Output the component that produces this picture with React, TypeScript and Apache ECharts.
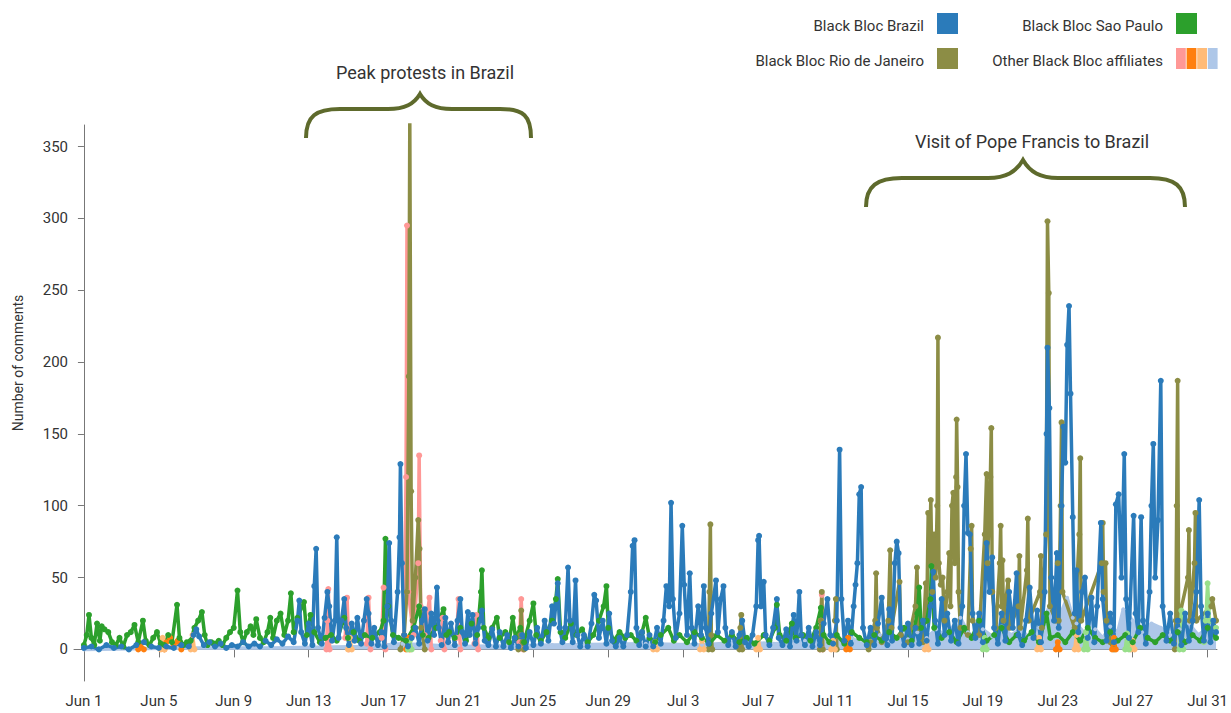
import React, { useEffect, useRef } from "react";
import * as echarts from "echarts";

// x values are days since Jun 1 (0 = Jun 1, 30 = Jul 1, 60 = Jul 31)
// [x, null] entries mark stretches with no visible activity (line break)
const TICK_DAYS = [0, 4, 8, 12, 16, 20, 24, 28, 32, 36, 40, 44, 48, 52, 56, 60];
const Y_TICKS = [0, 50, 100, 150, 200, 250, 300, 350];

const SERIES_NAMES = [
  "Black Bloc Brazil",
  "Black Bloc Sao Paulo",
  "Black Bloc Rio de Janeiro",
  "Other Black Bloc affiliates",
];

const brazil: number[][] = [
  [0, 1], [0.4, 2], [0.8, 0], [1.2, 3], [1.6, 1], [2.0, 2], [2.4, 0], [2.8, 3], [3.2, 5], [3.6, 2], [4.0, 1], [4.4, 2], [4.8, 1], [5.2, 3], [5.6, 2],
  [5.85, 10], [6.0, 14], [6.15, 9], [6.4, 3], [6.7, 5], [7.0, 2], [7.3, 4], [7.6, 1], [7.9, 3], [8.2, 2], [8.5, 5], [8.8, 2], [9.1, 4], [9.4, 2], [9.7, 6], [10.0, 3], [10.3, 7], [10.6, 4], [10.9, 9], [11.2, 5],
  [11.4, 20], [11.5, 34], [11.6, 12], [11.8, 4], [12.0, 18], [12.2, 3], [12.3, 44], [12.4, 70], [12.5, 15], [12.7, 4], [12.85, 22], [13.0, 40], [13.1, 30], [13.25, 6], [13.4, 20], [13.5, 78], [13.6, 8], [13.75, 20], [13.9, 35], [14.0, 15], [14.15, 3], [14.3, 18], [14.45, 6], [14.6, 22], [14.8, 4], [14.95, 20], [15.1, 35], [15.2, 25], [15.35, 4], [15.5, 15], [15.7, 3], [15.9, 12], [16.05, 2], [16.2, 30], [16.3, 74], [16.4, 20], [16.55, 5], [16.75, 40], [16.85, 78], [16.9, 129], [16.98, 60], [17.1, 10], [17.3, 2], [17.5, 8], [17.7, 15], [17.9, 4], [18.05, 20], [18.2, 28], [18.35, 6], [18.55, 25], [18.7, 10], [18.85, 43], [18.95, 15], [19.1, 3], [19.3, 22], [19.45, 5], [19.6, 18], [19.8, 3], [19.95, 20], [20.1, 35], [20.2, 12], [20.35, 4], [20.5, 26], [20.6, 10], [20.75, 24], [20.9, 4], [21.05, 15], [21.25, 27], [21.4, 6], [21.6, 3], [21.8, 14], [22.0, 2], [22.2, 12], [22.4, 2], [22.6, 10], [22.8, 1], [23.0, 8], [23.2, 2], [23.4, 10], [23.6, 1], [23.8, 12], [24.0, 3], [24.2, 15], [24.4, 4], [24.6, 20], [24.8, 6], [25.0, 30], [25.1, 18], [25.3, 46], [25.4, 15], [25.55, 5], [25.7, 15], [25.85, 57], [25.95, 20], [26.1, 5], [26.25, 48], [26.35, 10], [26.5, 2], [26.7, 10], [26.9, 2], [27.1, 18], [27.25, 38], [27.35, 34], [27.5, 8], [27.7, 20], [27.9, 4], [28.05, 25], [28.2, 6], [28.4, 2], [28.6, 8], [28.8, 2], [29.0, 10], [29.2, 40], [29.3, 72], [29.4, 76], [29.5, 15], [29.65, 3], [29.8, 12], [30.0, 2], [30.2, 10], [30.4, 2], [30.6, 15], [30.8, 4],
  [30.95, 20], [31.1, 44], [31.25, 30], [31.35, 102], [31.45, 35], [31.6, 8], [31.8, 25], [31.95, 86], [32.05, 45], [32.2, 10], [32.35, 53], [32.45, 15], [32.6, 4], [32.8, 30], [32.95, 10], [33.1, 44], [33.2, 15], [33.35, 4], [33.5, 25], [33.75, 48], [33.85, 12], [34.0, 35], [34.15, 44], [34.25, 15], [34.4, 3], [34.6, 12], [34.8, 2], [35.0, 10], [35.15, 20], [35.3, 5], [35.5, 2], [35.7, 10], [35.9, 30], [36.0, 76], [36.05, 79], [36.15, 30], [36.3, 47], [36.4, 10], [36.6, 3], [36.8, 15], [37.0, 35], [37.1, 8], [37.3, 3], [37.5, 14], [37.7, 2], [37.9, 24], [38.05, 6], [38.2, 40], [38.3, 10], [38.5, 3], [38.7, 15], [38.9, 2], [39.1, 12], [39.3, 3], [39.5, 18], [39.7, 35], [39.85, 10], [40.0, 4], [40.2, 20], [40.35, 139], [40.45, 35], [40.6, 6], [40.8, 20], [40.95, 4], [41.1, 30], [41.2, 45], [41.3, 60], [41.4, 108], [41.5, 113], [41.6, 15], [41.8, 3], [42.0, 15], [42.2, 3], [42.4, 18], [42.6, 36], [42.75, 8], [42.9, 3], [43.0, 28], [43.15, 6], [43.3, 60], [43.4, 75], [43.5, 67], [43.6, 15], [43.8, 3], [44.0, 18], [44.2, 3], [44.4, 15], [44.6, 4], [44.8, 20], [45.0, 6], [45.2, 30], [45.35, 54], [45.45, 20], [45.6, 4], [45.8, 35], [45.95, 10], [46.1, 25], [46.3, 6], [46.5, 20], [46.7, 4], [46.9, 30], [47.0, 100], [47.1, 136], [47.2, 81], [47.3, 80], [47.45, 25], [47.6, 8], [47.8, 25], [48.0, 5], [48.2, 74], [48.35, 40], [48.5, 64], [48.6, 15], [48.8, 4], [49.0, 25], [49.2, 6], [49.4, 40], [49.6, 15], [49.8, 53], [49.9, 10], [50.1, 3], [50.3, 20], [50.5, 43], [50.7, 8], [50.9, 27], [51.1, 5], [51.3, 40], [51.4, 150], [51.45, 210], [51.55, 168], [51.65, 50], [51.8, 20], [51.95, 67], [52.05, 15], [52.2, 100], [52.3, 155], [52.4, 130], [52.5, 212], [52.6, 239], [52.68, 178], [52.8, 92], [52.9, 25], [53.0, 55], [53.1, 12], [53.3, 40], [53.45, 50], [53.6, 8], [53.8, 36], [53.95, 5], [54.1, 30], [54.3, 88], [54.4, 35], [54.6, 6], [54.8, 25], [55.0, 5], [55.1, 101], [55.25, 108], [55.4, 50], [55.55, 136], [55.65, 35], [55.8, 8], [56.05, 93], [56.15, 25], [56.3, 12], [56.45, 92], [56.55, 20], [56.7, 4], [56.9, 40], [57.0, 100], [57.1, 143], [57.2, 50], [57.35, 90], [57.5, 187], [57.6, 30], [57.8, 6], [58.0, 25], [58.2, 4], [58.4, 20], [58.6, 3], [58.8, 25], [59.0, 6], [59.2, 20], [59.4, 40], [59.55, 104], [59.65, 30], [59.8, 6], [60.0, 25], [60.15, 5], [60.3, 20], [60.45, 12],
];

const saoPaulo: number[][] = [
  [0, 3], [0.15, 10], [0.27, 24], [0.4, 8], [0.55, 3], [0.7, 18], [0.85, 6], [0.95, 16], [1.1, 14], [1.3, 12], [1.5, 5], [1.7, 3], [1.9, 8], [2.1, 2], [2.3, 10], [2.5, 12], [2.7, 17], [2.9, 5], [3.15, 20], [3.3, 6], [3.5, 3], [3.7, 8], [3.9, 12], [4.1, 4], [4.3, 3], [4.5, 10], [4.7, 5], [4.97, 31], [5.1, 8], [5.3, 3], [5.5, 5], [5.7, 6], [5.9, 15], [6.1, 20], [6.3, 26], [6.45, 10], [6.6, 3], [6.8, 5], [7.0, 4], [7.2, 6], [7.4, 3], [7.6, 8], [7.8, 12], [8.0, 15], [8.2, 41], [8.35, 12], [8.5, 5], [8.7, 12], [8.9, 16], [9.05, 10], [9.2, 21], [9.4, 8], [9.6, 5], [9.8, 12], [9.95, 22], [10.1, 8], [10.3, 20], [10.5, 25], [10.7, 10], [10.9, 20], [11.05, 39], [11.2, 12], [11.4, 22], [11.75, 33], [11.9, 10], [12.1, 24], [12.3, 12], [12.6, 5], [12.9, 8], [13.2, 10], [13.5, 6], [13.9, 22], [14.1, 8], [14.4, 12], [14.7, 6], [15.0, 10], [15.4, 8], [15.8, 12], [16.0, 20], [16.1, 77], [16.25, 30], [16.5, 10], [16.8, 8], [17.2, 6], [17.6, 15], [17.9, 30], [18.1, 10], [18.4, 8], [18.8, 15], [19.2, 28], [19.35, 10],
  [19.5, 12], [19.8, 8], [20.1, 15], [20.4, 6], [20.7, 18], [21.0, 10], [21.2, 40], [21.25, 55], [21.35, 15], [21.6, 8], [21.8, 15], [22.05, 22], [22.2, 8], [22.5, 12], [22.7, 5], [22.9, 22], [23.05, 8], [23.3, 15], [23.5, 5], [23.8, 20], [24.0, 32], [24.15, 10], [24.4, 6], [24.7, 12], [25.0, 20], [25.2, 35], [25.3, 49], [25.45, 12], [25.7, 8], [26.0, 18], [26.3, 10], [26.6, 14], [26.9, 5], [27.2, 10], [27.5, 20], [27.75, 30], [27.9, 44], [28.0, 15], [28.3, 6], [28.6, 12], [28.9, 8], [29.2, 10], [29.5, 6], [29.8, 12], [30.0, 22], [30.2, 8], [30.5, 5], [30.8, 10], [31.2, 15], [31.5, 6], [31.8, 10], [32.2, 5], [32.6, 12], [33.0, 8], [33.4, 4], [33.8, 10], [34.2, 6], [34.6, 10], [35.0, 5], [35.4, 8], [35.8, 4], [36.3, 10], [36.6, 6], [36.9, 15], [37.0, 31], [37.15, 10], [37.5, 6], [37.8, 18], [38.0, 8], [38.4, 10], [38.8, 6], [39.1, 15], [39.35, 29], [39.5, 10], [39.8, 5], [40.2, 10], [40.6, 4], [41.0, 12], [41.4, 8], [41.8, 5], [42.2, 10], [42.6, 6], [43.0, 12], [43.4, 8], [43.8, 15], [44.2, 6], [44.5, 25], [44.6, 43], [44.7, 15], [45.0, 20], [45.2, 35], [45.25, 58], [45.4, 15], [45.8, 8], [46.2, 12], [46.6, 5], [47.0, 15], [47.4, 8], [47.8, 20], [48.2, 6], [48.6, 10], [49.0, 15], [49.4, 5], [49.8, 10], [50.2, 6], [50.6, 12], [51.0, 5], [51.4, 25], [51.6, 8], [52.0, 10], [52.4, 5], [52.8, 12], [53.2, 6], [53.6, 15], [54.0, 8], [54.4, 5], [54.8, 12], [55.2, 6], [55.6, 10], [56.0, 5], [56.4, 15], [56.8, 8], [57.2, 5], [57.6, 10], [58.0, 6], [58.4, 12], [58.8, 5], [59.2, 10], [59.6, 6], [60.0, 15], [60.45, 8],
];

const rio: (number | null)[][] = [
  [16.9, 0], [17.1, 10], [17.25, 40], [17.35, 190], [17.4, 369], [17.47, 110], [17.55, 20], [17.7, 50], [17.85, 90], [17.92, 70], [18.0, 15], [18.2, 0], [20, null],
  [23.2, 0], [23.3, 10], [23.35, 27], [23.42, 5], [23.5, 0], [25, null],
  [33.35, 0], [33.4, 40], [33.45, 87], [33.5, 10], [33.55, 0], [34, null],
  [35.0, 0], [35.05, 15], [35.1, 24], [35.15, 0], [36, null],
  [39.3, 0], [39.35, 20], [39.4, 40], [39.45, 0], [39.8, null],
  [40.1, 20], [40.15, 35], [40.2, 0], [41, null],
  [41.9, 0], [42.0, 5], [42.25, 20], [42.3, 53], [42.35, 15], [42.6, 5], [42.95, 20], [43.05, 69], [43.12, 15], [43.55, 47], [43.62, 10], [44.0, 5], [44.4, 30], [44.48, 57], [44.55, 15], [44.8, 5], [44.95, 46], [45.0, 20], [45.08, 95], [45.15, 60], [45.22, 104], [45.3, 40], [45.4, 80], [45.48, 50], [45.56, 100], [45.6, 217], [45.65, 60], [45.75, 45], [45.85, 50], [45.95, 20], [46.1, 40], [46.2, 67], [46.27, 30], [46.35, 100], [46.42, 109], [46.5, 60], [46.57, 120], [46.6, 160], [46.65, 113], [46.7, 40], [46.8, 15], [47.2, 10], [47.35, 70], [47.4, 86], [47.45, 20], [47.8, 10], [48.1, 80], [48.2, 122], [48.25, 60], [48.4, 120], [48.45, 154], [48.5, 40], [48.7, 15], [48.9, 60], [48.95, 86], [49.0, 30], [49.05, 62], [49.1, 20], [49.35, 48], [49.42, 15], [49.9, 30], [49.95, 65], [50.0, 15], [50.35, 55], [50.4, 91], [50.45, 20], [51.05, 40], [51.1, 65], [51.15, 15], [51.38, 80], [51.45, 298], [51.52, 248], [51.58, 30], [51.9, 20], [52.0, 60], [52.05, 20], [52.15, 100], [52.2, 158], [52.25, 40], [52.9, 15], [53.15, 80], [53.2, 133], [53.25, 20], [54.35, 60], [54.4, 88], [54.45, 40], [54.55, 60], [54.6, 20], [54.8, 5], [55.0, 0], [56, null],
  [58.25, 0], [58.3, 20], [58.35, 100], [58.4, 187], [58.45, 20], [58.95, 50], [59.0, 83], [59.05, 20], [59.3, 60], [59.35, 95], [59.4, 20], [60.2, 30], [60.25, 35], [60.45, 20],
];

// Other Black Bloc affiliates
const otherPink: (number | null)[][] = [
  [12.95, 0], [13.0, 20], [13.05, 42], [13.12, 0], [13.5, null],
  [13.95, 8], [14.05, 36], [14.15, 0], [14.6, null],
  [15.1, 4], [15.2, 36], [15.3, 0], [15.6, null],
  [15.9, 8], [16.0, 43], [16.1, 0], [16.6, null],
  [17.1, 10], [17.2, 120], [17.25, 295], [17.32, 40], [17.6, 10], [17.85, 60], [17.9, 135], [17.98, 30], [18.2, 10], [18.45, 36], [18.55, 0], [18.8, null],
  [19.05, 6], [19.15, 22], [19.25, 0], [19.6, null],
  [19.9, 8], [20.0, 35], [20.1, 0], [20.5, null],
  [20.85, 4], [20.95, 24], [21.05, 0], [22, null],
  [23.25, 5], [23.35, 35], [23.45, 0], [24, null],
  [39.3, 0], [39.35, 20], [39.4, 38], [39.45, 0],
];
const otherOrange: (number | null)[][] = [
  [2.9, 0], [3.0, 4], [3.2, 0], [3.6, null],
  [4.3, 0], [4.4, 5], [4.6, 8], [4.8, 3], [5.0, 6], [5.2, 0], [6, null],
  [17.2, 0], [17.3, 8], [17.4, 0], [18, null],
  [40.7, 0], [40.8, 8], [40.9, 0], [41.5, null],
  [51.9, 0], [52.0, 5], [52.1, 0], [53, null],
  [54.9, 0], [55.0, 8], [55.1, 0],
];
const otherLightOrange: (number | null)[][] = [
  [4.1, 0], [4.2, 8], [4.3, 0], [5, null],
  [5.7, 0], [5.8, 10], [5.9, 0], [7, null],
  [14.1, 0], [14.2, 8], [14.3, 0], [15, null],
  [30.4, 0], [30.5, 5], [30.6, 0], [31, null],
  [32.9, 0], [33, 6], [33.1, 0], [34, null],
  [35.9, 0], [36, 8], [36.1, 0], [37, null],
  [39.9, 0], [40, 6], [40.1, 0], [41, null],
  [44.9, 0], [45, 6], [45.1, 0], [46, null],
  [50.9, 0], [51, 8], [51.1, 0], [52, null],
  [52.9, 0], [53, 10], [53.1, 0], [54, null],
  [55.9, 0], [56, 6], [56.1, 0],
];
const otherLightBlue: number[][] = [
  [0, 0], [5, 1], [10, 1], [15, 2], [17, 4], [20, 2], [25, 3], [30, 4], [33, 3], [35, 5], [37, 4], [38.5, 6], [40, 5], [41, 8], [41.5, 4], [42, 6], [42.5, 10], [43, 5], [43.5, 9], [44, 7], [44.5, 12], [45, 8], [45.5, 14], [46, 10], [46.8, 22], [47.2, 12], [47.6, 8], [48, 14], [48.5, 9], [49, 16], [49.5, 10], [50, 14], [50.5, 8], [51, 15], [51.5, 28], [52, 20], [52.5, 36], [52.8, 22], [53, 18], [53.5, 10], [54, 14], [54.4, 8], [54.8, 16], [55.2, 12], [55.5, 28], [56, 20], [56.5, 12], [57, 18], [57.5, 15], [58, 10], [58.5, 14], [59, 18], [59.5, 10], [60, 15], [60.45, 12],
];
const otherLightGreen: (number | null)[][] = [
  [17.3, 0], [17.4, 6], [17.5, 0], [18, null],
  [48, 0], [48.1, 8], [48.2, 0], [49, null],
  [53.4, 0], [53.5, 12], [53.6, 0], [54, null],
  [55.6, 0], [55.7, 11], [55.8, 0], [56, null],
  [58.5, 0], [58.6, 27], [58.7, 0], [59, null],
  [59.8, 5], [59.9, 20], [60.0, 46], [60.1, 20], [60.45, 15],
];

const COLORS = {
  brazil: "#2b7bba",
  saoPaulo: "#2ca02c",
  rio: "#8c8d45",
  pink: "#ff9896",
  orange: "#ff7f0e",
  lightOrange: "#ffbb78",
  lightBlue: "#aec7e8",
  lightGreen: "#98df8a",
};

const FONT = "Roboto, 'Noto Sans', sans-serif";

function dayLabel(d: number): string {
  if (d < 30) return "Jun " + (d + 1);
  return "Jul " + (d - 29);
}

function lineSeries(name: string, data: any[], color: string, extra: any = {}) {
  return {
    type: "line",
    name,
    data,
    symbol: "circle",
    symbolSize: 6,
    showSymbol: true,
    connectNulls: false,
    lineStyle: { width: 3.5, color },
    itemStyle: { color },
    emphasis: { disabled: true },
    animation: false,
    ...extra,
  };
}

export default function App() {
  const ref = useRef<HTMLDivElement>(null);
  useEffect(() => {
    if (!ref.current) return;
    const brace1 =
      "M306,138 C306,116 316,109 340,109 L388,109 C405,109 414,104 420,94 C426,104 435,109 452,109 L500,109 C524,109 531,116 531,138";
    const brace2 =
      "M866,207 C866,186 877,178 902,178 L988,178 C1006,178 1016,172 1023,160 C1030,172 1040,178 1058,178 L1150,178 C1175,178 1185,186 1185,207";
    echarts.graphic.registerShape("brace1", echarts.graphic.extendPath(brace1, {}));
    echarts.graphic.registerShape("brace2", echarts.graphic.extendPath(brace2, {}));

    const chart = echarts.init(ref.current, null, { renderer: "svg" });
    const textStyle = (x: number, y: number, text: string, align: string, size: number) => ({
      type: "text",
      x,
      y,
      style: {
        text,
        fill: "#333",
        font: `${size}px ${FONT}`,
        textAlign: align,
        textVerticalAlign: "middle",
      },
    });
    const otherColors = [COLORS.pink, COLORS.orange, COLORS.lightOrange, COLORS.lightBlue];
    chart.setOption({
      animation: false,
      grid: { left: 74, right: 14, top: 125, bottom: 32 },
      xAxis: {
        type: "value",
        min: -0.53,
        max: 60.5,
        splitLine: { show: false },
        axisLine: { show: true, lineStyle: { color: "#777", width: 1 } },
        axisTick: { show: true, length: 8, lineStyle: { color: "#777" }, customValues: TICK_DAYS },
        axisLabel: {
          customValues: TICK_DAYS,
          formatter: (v: number) => dayLabel(Math.round(v)),
          color: "#333",
          fontSize: 15,
          fontFamily: FONT,
          margin: 12,
        },
      },
      yAxis: {
        type: "value",
        min: -22,
        max: 365,
        splitLine: { show: false },
        axisLine: { show: true, lineStyle: { color: "#777", width: 1 } },
        axisTick: { show: true, length: 6, lineStyle: { color: "#777" }, customValues: Y_TICKS },
        axisLabel: {
          customValues: Y_TICKS,
          color: "#333",
          fontSize: 15,
          fontFamily: FONT,
          margin: 6,
        },
      },
      series: [
        lineSeries(SERIES_NAMES[3] + " 4", otherLightBlue, COLORS.lightBlue, {
          areaStyle: { color: COLORS.lightBlue, opacity: 1 },
          symbolSize: 4,
        }),
        lineSeries(SERIES_NAMES[3] + " 1", otherPink, COLORS.pink),
        lineSeries(SERIES_NAMES[2], rio, COLORS.rio),
        lineSeries(SERIES_NAMES[3] + " 2", otherOrange, COLORS.orange),
        lineSeries(SERIES_NAMES[3] + " 3", otherLightOrange, COLORS.lightOrange),
        lineSeries(SERIES_NAMES[3] + " 5", otherLightGreen, COLORS.lightGreen),
        lineSeries(SERIES_NAMES[1], saoPaulo, COLORS.saoPaulo),
        lineSeries(SERIES_NAMES[0], brazil, COLORS.brazil),
      ],
      graphic: [
        // legend
        textStyle(924, 26, SERIES_NAMES[0], "right", 15),
        { type: "rect", shape: { x: 937, y: 13, width: 21, height: 21 }, style: { fill: COLORS.brazil } },
        textStyle(924, 61, SERIES_NAMES[2], "right", 15),
        { type: "rect", shape: { x: 937, y: 48, width: 21, height: 21 }, style: { fill: COLORS.rio } },
        textStyle(1163, 26, SERIES_NAMES[1], "right", 15),
        { type: "rect", shape: { x: 1176, y: 13, width: 21, height: 21 }, style: { fill: COLORS.saoPaulo } },
        textStyle(1163, 61, SERIES_NAMES[3], "right", 15),
        ...otherColors.map((c, i) => ({
          type: "rect",
          shape: { x: 1176 + i * 10.6, y: 48, width: 9.8, height: 21 },
          style: { fill: c },
        })),
        // annotations
        textStyle(425, 72, "Peak protests in Brazil", "center", 18),
        { type: "brace1", style: { stroke: "#5e6a2c", lineWidth: 4, fill: "none" } },
        textStyle(1032, 141, "Visit of Pope Francis to Brazil", "center", 18),
        { type: "brace2", style: { stroke: "#5e6a2c", lineWidth: 4, fill: "none" } },
        // y axis title
        {
          type: "text",
          x: 18,
          y: 363,
          rotation: Math.PI / 2,
          style: {
            text: "Number of comments",
            fill: "#333",
            font: `14px ${FONT}`,
            textAlign: "center",
            textVerticalAlign: "middle",
          },
        },
      ],
    });
    return () => chart.dispose();
  }, []);
  return (
    <div
      ref={ref}
      style={{ position: "fixed", left: 0, top: 0, width: 1231, height: 713, background: "#fff" }}
    />
  );
}
